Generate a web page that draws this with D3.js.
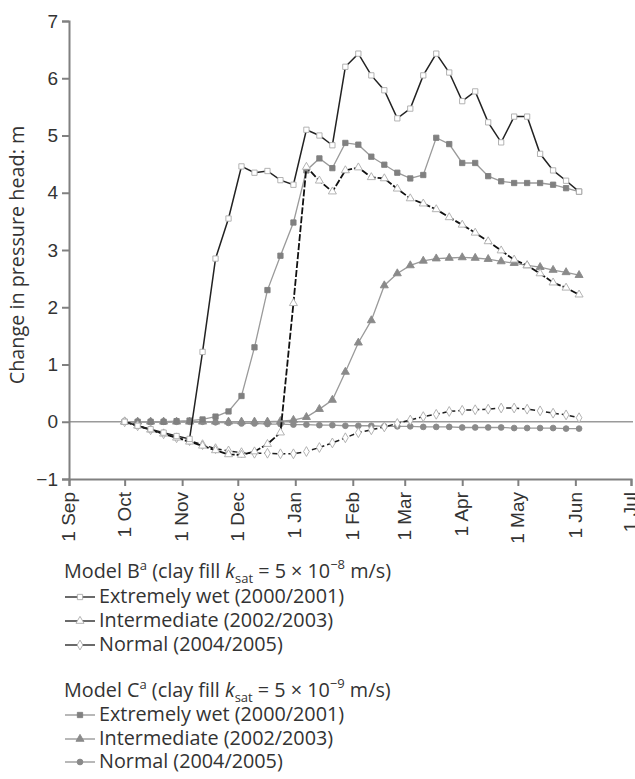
<!DOCTYPE html>
<html>
<head>
<meta charset="utf-8">
<script src="https://cdn.jsdelivr.net/npm/d3@7"></script>
<style>
  body { margin: 0; background: #fff; }
  svg { font-family: "Open Sans", "Noto Sans", sans-serif; }
  .tick text { fill: #333; }
</style>
</head>
<body>
<div id="container"></div>
<script>
// weekly output dates (winter season, Oct to Jun)
const dates = ["2001-10-01","2001-10-08","2001-10-15","2001-10-22","2001-10-29","2001-11-05",
  "2001-11-12","2001-11-19","2001-11-26","2001-12-03","2001-12-10","2001-12-17","2001-12-24",
  "2001-12-31","2002-01-07","2002-01-14","2002-01-21","2002-01-28","2002-02-04","2002-02-11",
  "2002-02-18","2002-02-25","2002-03-04","2002-03-11","2002-03-18","2002-03-25","2002-04-01",
  "2002-04-08","2002-04-15","2002-04-22","2002-04-29","2002-05-06","2002-05-13","2002-05-20",
  "2002-05-27","2002-06-03"];

// Model B (clay fill ksat = 5e-8)
const bWet = [0, -0.07, -0.13, -0.19, -0.25, -0.3, 1.22, 2.85, 3.55, 4.46, 4.35, 4.38, 4.22,
  4.14, 5.1, 5.0, 4.83, 6.2, 6.43, 6.05, 5.79, 5.3, 5.47, 6.05, 6.43, 6.1, 5.6, 5.77, 5.23,
  4.88, 5.33, 5.33, 4.68, 4.39, 4.21, 4.02];
const bInter = [0, -0.07, -0.14, -0.21, -0.28, -0.35, -0.42, -0.5, -0.57, -0.58, -0.52, -0.39,
  -0.19, 2.07, 4.45, 4.21, 4.02, 4.39, 4.44, 4.27, 4.25, 4.07, 3.9, 3.81, 3.71, 3.57, 3.44,
  3.3, 3.15, 2.99, 2.83, 2.73, 2.59, 2.43, 2.34, 2.22];
const bNormal = [0, -0.07, -0.14, -0.21, -0.28, -0.33, -0.4, -0.47, -0.51, -0.54, -0.55, -0.55,
  -0.56, -0.56, -0.52, -0.45, -0.37, -0.28, -0.19, -0.14, -0.09, -0.03, 0.03, 0.09, 0.13,
  0.18, 0.2, 0.21, 0.22, 0.24, 0.24, 0.22, 0.19, 0.15, 0.12, 0.07];

// Model C (clay fill ksat = 5e-9)
const cWet = [0, 0, 0, 0, 0.01, 0.02, 0.04, 0.09, 0.18, 0.45, 1.3, 2.3, 2.9, 3.48, 4.39, 4.6,
  4.43, 4.87, 4.84, 4.63, 4.49, 4.35, 4.25, 4.31, 4.96, 4.85, 4.52, 4.52, 4.29, 4.2, 4.17,
  4.17, 4.17, 4.14, 4.08, 4.02];
const cInter = [0, 0, 0, 0, 0, 0, 0, 0, 0, 0, 0, 0, 0.01, 0.03, 0.08, 0.22, 0.38, 0.87, 1.38,
  1.77, 2.38, 2.59, 2.73, 2.81, 2.85, 2.86, 2.87, 2.86, 2.84, 2.8, 2.77, 2.73, 2.7, 2.65,
  2.61, 2.56];
const cNormal = [0, 0, 0, 0, 0, 0, 0, -0.01, -0.02, -0.03, -0.03, -0.04, -0.04, -0.05, -0.05,
  -0.06, -0.06, -0.07, -0.07, -0.07, -0.08, -0.08, -0.08, -0.09, -0.09, -0.09, -0.1, -0.1,
  -0.1, -0.1, -0.11, -0.11, -0.11, -0.11, -0.12, -0.12];

const monthTicks = ["2001-09-01","2001-10-01","2001-11-01","2001-12-01","2002-01-01","2002-02-01",
  "2002-03-01","2002-04-01","2002-05-01","2002-06-01","2002-07-01"];
const monthLabels = ["1 Sep","1 Oct","1 Nov","1 Dec","1 Jan","1 Feb","1 Mar","1 Apr","1 May","1 Jun","1 Jul"];
const yTicks = [-1, 0, 1, 2, 3, 4, 5, 6, 7];

const seasons = ["Extremely wet (2000/2001)", "Intermediate (2002/2003)", "Normal (2004/2005)"];

const series = [
  { values: cNormal, model: "C", idx: 2, stroke: "#9a9a9a", width: 1.3, dash: null, marker: "circle", fill: "#8a8a8a", mstroke: "#8a8a8a" },
  { values: cInter, model: "C", idx: 1, stroke: "#9a9a9a", width: 1.3, dash: null, marker: "triangle", fill: "#8a8a8a", mstroke: "#8a8a8a" },
  { values: cWet, model: "C", idx: 0, stroke: "#9a9a9a", width: 1.3, dash: null, marker: "square", fill: "#808080", mstroke: "#808080" },
  { values: bNormal, model: "B", idx: 2, stroke: "#1e1e1e", width: 1.5, dash: "5,3", marker: "diamond", fill: "#fff", mstroke: "#aaa" },
  { values: bInter, model: "B", idx: 1, stroke: "#111", width: 1.8, dash: "7,2", marker: "triangle", fill: "#fff", mstroke: "#aaa" },
  { values: bWet, model: "B", idx: 0, stroke: "#222", width: 1.5, dash: null, marker: "square", fill: "#fff", mstroke: "#aaa" }
];

const width = 635, height = 779;
const tickSize = 19;
const textSize = 19.8;
const parse = d3.utcParse("%Y-%m-%d");

const x = d3.scaleUtc()
  .domain([parse("2001-09-01"), parse("2002-07-01")])
  .range([69, 631]);
const y = d3.scaleLinear()
  .domain([-1, 7])
  .range([479, 21]);

const svg = d3.select('#container').append('svg')
  .attr('width', width)
  .attr('height', height);

const symbols = {
  circle: d3.symbol(d3.symbolCircle, 26),
  square: d3.symbol(d3.symbolSquare, 28),
  triangle: d3.symbol(d3.symbolTriangle, 28),
  diamond: d3.symbol(d3.symbolDiamond, 28)
};

// zero line
svg.append('line')
  .attr('x1', x.range()[0]).attr('x2', 633)
  .attr('y1', y(0)).attr('y2', y(0))
  .attr('stroke', '#9a9a9a').attr('stroke-width', 1.3);

// axes
const yAxis = d3.axisLeft(y)
  .tickValues(yTicks)
  .tickSize(7)
  .tickPadding(4)
  .tickFormat(d => d < 0 ? "\u2212" + Math.abs(d) : d);
const gy = svg.append('g')
  .attr('transform', `translate(${x.range()[0]},0)`)
  .call(yAxis);
gy.selectAll('.tick text').attr('font-size', tickSize);

const xAxis = d3.axisBottom(x)
  .tickValues(monthTicks.map(parse))
  .tickSize(7)
  .tickFormat((d, i) => monthLabels[i]);
const gx = svg.append('g')
  .attr('transform', `translate(0,${y(-1)})`)
  .call(xAxis);
gx.selectAll('.tick text')
  .attr('font-size', tickSize)
  .attr('text-anchor', 'end')
  .attr('transform', 'rotate(-90)')
  .attr('x', -13)
  .attr('y', 0)
  .attr('dy', '0.3em');

[gx, gy].forEach(g => {
  g.select('.domain').attr('stroke', '#808080').attr('stroke-width', 2);
  g.selectAll('.tick line').attr('stroke', '#808080').attr('stroke-width', 2);
});

svg.append('text')
  .attr('transform', 'translate(24,255) rotate(-90)')
  .attr('text-anchor', 'middle')
  .attr('font-size', textSize)
  .attr('fill', '#333')
  .text('Change in pressure head: m');

// series
const line = d3.line()
  .x((d, i) => x(parse(dates[i])))
  .y(d => y(d));

series.forEach(s => {
  svg.append('path')
    .datum(s.values)
    .attr('fill', 'none')
    .attr('stroke', s.stroke)
    .attr('stroke-width', s.width)
    .attr('stroke-dasharray', s.dash)
    .attr('d', line);
  svg.append('g').selectAll('path')
    .data(s.values)
    .enter()
    .append('path')
    .attr('transform', (d, i) => `translate(${x(parse(dates[i]))},${y(d)})`)
    .attr('d', symbols[s.marker])
    .attr('fill', s.fill)
    .attr('stroke', s.mstroke)
    .attr('stroke-width', 0.9);
});

// legend
const legend = svg.append('g').attr('font-size', textSize).attr('fill', '#333');

function header(yPos, model, power) {
  const t = legend.append('text').attr('x', 64).attr('y', yPos);
  t.append('tspan').text('Model ' + model);
  t.append('tspan').attr('font-size', 13).attr('dy', -8).text('a');
  t.append('tspan').attr('dy', 8).text(' (clay fill ');
  t.append('tspan').attr('font-style', 'italic').text('k');
  t.append('tspan').attr('font-size', 13).attr('dy', 5).text('sat');
  t.append('tspan').attr('dy', -5).text(' = 5 \u00d7 10');
  t.append('tspan').attr('font-size', 13).attr('dy', -9).text('\u2212' + power);
  t.append('tspan').attr('dy', 9).text(' m/s)');
}

const rowsB = [603, 627, 651];
const rowsC = [721, 745, 768];
header(578, 'B', 8);
header(697, 'C', 9);

series.forEach(s => {
  const base = (s.model === 'B' ? rowsB : rowsC)[s.idx];
  const yPos = base - 6;
  legend.append('line')
    .attr('x1', 65).attr('x2', 95)
    .attr('y1', yPos).attr('y2', yPos)
    .attr('stroke', s.model === 'B' ? '#444' : '#9a9a9a')
    .attr('stroke-width', s.model === 'B' ? 1.6 : 1.4);
  legend.append('path')
    .attr('transform', `translate(80,${yPos})`)
    .attr('d', symbols[s.marker])
    .attr('fill', s.fill)
    .attr('stroke', s.mstroke)
    .attr('stroke-width', 0.9);
  legend.append('text')
    .attr('x', 99)
    .attr('y', base)
    .text(seasons[s.idx]);
});
</script>
</body>
</html>
